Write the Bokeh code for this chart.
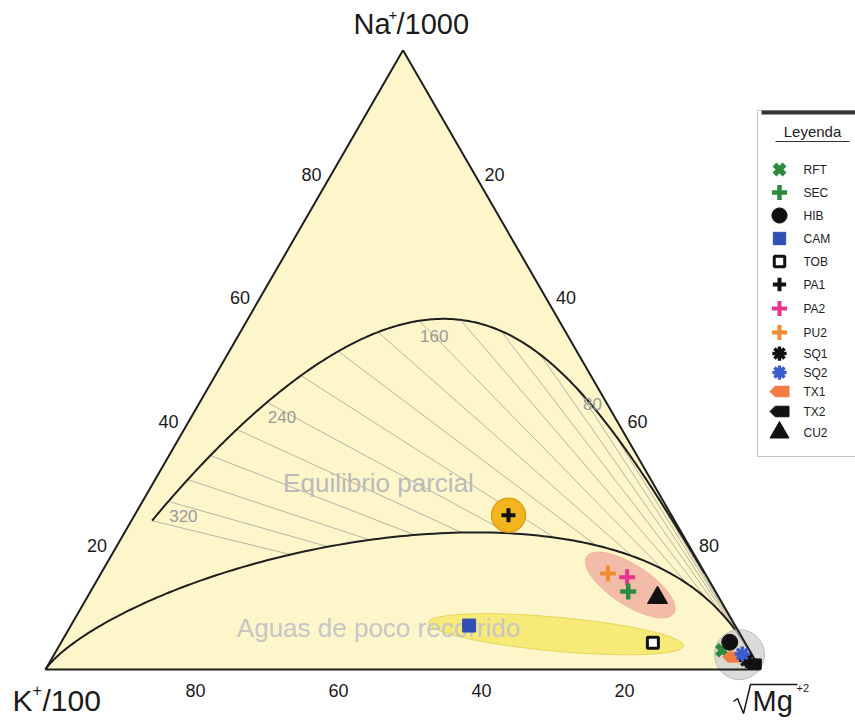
import numpy as np
from bokeh.plotting import figure
from bokeh.models import Range1d
from bokeh.core.properties import value
from bokeh.embed import file_html
from bokeh.resources import INLINE

# ---------------- data ----------------
# relative proportions (%) of Na/1000, K/100 and sqrt(Mg) for each sample
samples = ["RFT", "SEC", "HIB", "CAM", "TOB", "PA1", "PA2", "PU2", "SQ1", "SQ2", "TX1", "TX2", "CU2"]
na_pct = [3.1, 12.6, 4.4, 7.1, 4.3, 24.9, 14.9, 15.5, 1.5, 2.5, 2.0, 0.9, 11.6]
k_pct = [3.8, 12.2, 2.1, 37.2, 12.9, 22.8, 11.2, 13.6, 1.2, 1.3, 3.0, 0.7, 8.6]
mg_pct = [93.1, 75.2, 93.5, 55.7, 82.8, 52.3, 73.9, 70.9, 97.3, 96.2, 95.0, 98.4, 79.8]

# Giggenbach (1988) geothermometers
isotherms = list(range(20, 341, 20))      # K-Na isotherms (deg C)
isotherm_labels = [80, 160, 240, 320]
t_full_eq = np.linspace(0, 340, 341)      # full equilibrium line
maturity_index = 2.0                      # lower limit of partial equilibrium

tick_values = [20, 40, 60, 80]

# sample groups that are highlighted
groups = {
    "geo": ["PA1"],
    "mix": ["PU2", "PA2", "SEC", "CU2"],
    "cold": ["CAM", "TOB"],
    "mg": ["RFT", "HIB", "SQ1", "SQ2", "TX1", "TX2"],
}

# ---------------- geometry ----------------
W, H = 855, 721
X0, Y0, SIDE = 45, 669, 715          # K corner (px) and triangle side (px)
S3 = np.sqrt(3) / 2


def tern(na, k, mg):
    na, k, mg = (np.asarray(v, dtype=float) for v in (na, k, mg))
    s = na + k + mg
    return mg / s + 0.5 * na / s, S3 * na / s


def P(xp, yp):
    return (xp - X0) / SIDE, (Y0 - yp) / SIDE


def full_eq(t):
    tk = np.asarray(t, dtype=float) + 273.15
    log_na_k = 1390.0 / tk - 1.75
    log_k2_mg = 14.0 - 4410.0 / tk
    na = 10 ** log_na_k
    sqrt_mg = 10 ** (-log_k2_mg / 2)
    return na / 1000.0, np.full_like(na, 1 / 100.0), sqrt_mg


def immature(log_na_k):
    log_na_k = np.asarray(log_na_k, dtype=float)
    lkm = (maturity_index - log_na_k) / 0.315
    na = 10 ** log_na_k
    sqrt_mg = 10 ** (-lkm / 2)
    return na / 1000.0, np.full_like(na, 1 / 100.0), sqrt_mg


p = figure(width=W, height=H, output_backend="svg", toolbar_location=None,
           x_axis_type=None, y_axis_type=None, min_border=0,
           x_range=Range1d(-X0 / SIDE, (W - X0) / SIDE),
           y_range=Range1d(-(H - Y0) / SIDE, Y0 / SIDE))
p.grid.visible = False
p.outline_line_color = None
p.background_fill_color = "white"
p.border_fill_color = "white"

FONT = value("Liberation Sans")


def label(xp, yp, txt, size, color="#1a1a1a", align="center", baseline="middle", style="normal"):
    x, y = P(xp, yp)
    p.text([x], [y], text=[txt], text_font=FONT, text_font_size=f"{size}px",
           text_color=color, text_align=align, text_baseline=baseline, text_font_style=style)


# triangle background
cx, cy = tern([100, 0, 0], [0, 100, 0], [0, 0, 100])
p.patch(list(cx), list(cy), fill_color="#fdf6cb", line_color=None)

# K-Na isotherms between the full-equilibrium line and the maturity limit
hx, hy = [], []
for t in isotherms:
    a = full_eq([t])
    x1, y1 = tern(*a)
    ratio = np.log10(a[0][0] * 1000.0 / 1.0)
    b = immature([ratio])
    x2, y2 = tern(*b)
    hx.append([x1[0], x2[0]])
    hy.append([y1[0], y2[0]])
p.multi_line(hx, hy, line_color="#a3a39c", line_width=0.8)

# full equilibrium and partial-equilibrium limit
fx, fy = tern(*full_eq(t_full_eq))
p.line(fx, fy, line_color="#1f1f1f", line_width=2)
lx, ly = tern(*immature(np.linspace(-3.5, 4.5, 600)))
p.line(lx, ly, line_color="#1f1f1f", line_width=2)

# highlighted groups
idx = {s: i for i, s in enumerate(samples)}
gx, gy = tern(na_pct, k_pct, mg_pct)


def centre(name):
    ii = [idx[s] for s in groups[name]]
    return float(np.mean(gx[ii])), float(np.mean(gy[ii]))


c = centre("cold")
p.ellipse([c[0] - 5 / SIDE], [c[1]], width=256 / SIDE, height=34 / SIDE, angle=-5.2,
          angle_units="deg", fill_color="#f8ea78", line_color="#e6d65a", line_width=1)
c = centre("mix")
p.ellipse([c[0]], [c[1]], width=104 / SIDE, height=40 / SIDE, angle=-33,
          angle_units="deg", fill_color="#f3bca8", line_color="#efb3a0", line_width=1)
c = centre("mg")
p.circle([c[0] + 2 / SIDE], [c[1]], radius=25 / SIDE, fill_color="#cfcfcf", fill_alpha=0.75,
         line_color="#bdbdbd", line_width=1)

# triangle edges
p.line(list(cx) + [cx[0]], list(cy) + [cy[0]], line_color="#1f1f1f", line_width=2)

c = centre("geo")
p.circle([c[0]], [c[1]], radius=17 / SIDE, fill_color="#f2b51e", line_color="#dba21a", line_width=1.5)

# isotherm temperature labels
for t in isotherm_labels:
    x, y = tern(*full_eq([t]))
    p.text([x[0] + 15 / SIDE], [y[0] - 15 / SIDE], text=[str(t)], text_font=FONT,
           text_font_size="17px", text_color="#9a9a9a", text_align="center", text_baseline="middle")

# field names
label(378, 482, "Equilibrio parcial", 26, color="#bababa")
label(378, 627, "Aguas de poco recorrido", 26, color="#c6c6c6")

# tick labels
for v in tick_values:
    x, y = tern([0], [v], [100 - v])
    p.text([x[0] + 7 / SIDE], [y[0] - 21 / SIDE], text=[str(v)], text_font=FONT, text_font_size="18px",
           text_color="#1a1a1a", text_align="center", text_baseline="middle")
    x, y = tern([v], [100 - v], [0])
    p.text([x[0] - 20 / SIDE], [y[0]], text=[str(v)], text_font=FONT, text_font_size="18px",
           text_color="#1a1a1a", text_align="center", text_baseline="middle")
    x, y = tern([100 - v], [0], [v])
    p.text([x[0] + 20 / SIDE], [y[0]], text=[str(v)], text_font=FONT, text_font_size="18px",
           text_color="#1a1a1a", text_align="center", text_baseline="middle")

# vertex titles
label(353, 23, "Na", 29, align="left")
label(388, 14, "+", 15, align="left")
label(396, 23, "/1000", 29, align="left")
label(12, 700, "K", 30, align="left")
label(32, 689, "+", 16, align="left")
label(42, 700, "/100", 30, align="left")
label(752, 700, "Mg", 29, align="left")
label(796, 687, "+2", 11, align="left")
rx, ry = zip(*[P(*q) for q in [(733, 701), (737, 698), (743, 713), (750, 684), (797, 684)]])
p.line(list(rx), list(ry), line_color="#1a1a1a", line_width=1.5)

# ---------------- markers ----------------
GREEN, BLUE, MAGENTA, ORANGE, BLACK = "#2e8b3e", "#2f4fb4", "#e8358e", "#f28a2e", "#111111"
style = {
    "RFT": dict(marker="x", color=GREEN, size=15, lw=5.5),
    "SEC": dict(marker="cross", color=GREEN, size=16, lw=4.5),
    "HIB": dict(marker="circle", color=BLACK, size=16, lw=1),
    "CAM": dict(marker="square", color=BLUE, size=13, lw=1),
    "TOB": dict(marker="open", color=BLACK, size=11, lw=3),
    "PA1": dict(marker="cross", color=BLACK, size=14, lw=4),
    "PA2": dict(marker="cross", color=MAGENTA, size=16, lw=4),
    "PU2": dict(marker="cross", color=ORANGE, size=16, lw=4),
    "SQ1": dict(marker="asterisk", color=BLACK, size=15, lw=3.5),
    "SQ2": dict(marker="asterisk", color="#3a5ccc", size=15, lw=3.5),
    "TX1": dict(marker="tag", color="#f07c42", size=18, lw=1),
    "TX2": dict(marker="tag", color=BLACK, size=18, lw=1),
    "CU2": dict(marker="triangle", color=BLACK, size=20, lw=1),
}


def draw_marker(x, y, st, scale=1.0):
    m, col, sz, lw = st["marker"], st["color"], st["size"] * scale, st["lw"]
    if m in ("x", "cross", "asterisk"):
        p.scatter([x], [y], marker=m, size=sz, line_color=col, line_width=lw)
    elif m == "open":
        p.scatter([x], [y], marker="square", size=sz, fill_color="white", line_color=col, line_width=lw)
    elif m == "tag":
        w, h = sz / 2, sz / 3.6
        xs = [x - w, x - w * 0.45, x + w, x + w, x - w * 0.45]
        ys = [y, y + h, y + h, y - h, y - h]
        p.patch(xs, ys, fill_color=col, line_color=col, line_join="round")
    else:
        p.scatter([x], [y], marker=m, size=sz, fill_color=col, line_color=col, line_width=lw)


order = ["CAM", "TOB", "PA1", "PU2", "PA2", "SEC", "CU2", "RFT", "TX1", "SQ1", "SQ2", "TX2", "HIB"]
for s in order:
    i = idx[s]
    st = style[s]
    if st["marker"] == "tag":
        draw_marker(gx[i], gy[i], dict(st, size=st["size"] / SIDE))
    else:
        draw_marker(gx[i], gy[i], st)

# ---------------- legend ----------------
bl, bt = P(757, 110)
br, bb = P(860, 456)
p.quad(left=[bl], right=[br], top=[bt], bottom=[bb], fill_color="white", line_color="#c4c4c4", line_width=1)
tx, ty = zip(*[P(*q) for q in [(761, 112), (858, 112)]])
p.line(list(tx), list(ty), line_color="#333333", line_width=4)
label(812, 131, "Leyenda", 15, color="#222222")
ux, uy = zip(*[P(*q) for q in [(775, 141), (849, 141)]])
p.line(list(ux), list(uy), line_color="#333333", line_width=1)

rows = [169, 192, 215, 238, 261, 284, 308, 332, 353, 372, 391, 411, 432]
for s, yr in zip(samples, rows):
    x, y = P(779, yr)
    st = style[s]
    if st["marker"] == "tag":
        draw_marker(x, y, dict(st, size=19 / SIDE))
    else:
        draw_marker(x, y, st, scale=0.95)
    label(803, yr, s, 12, color="#222222", align="left")

open("out.html", "w").write(file_html(p, INLINE))
